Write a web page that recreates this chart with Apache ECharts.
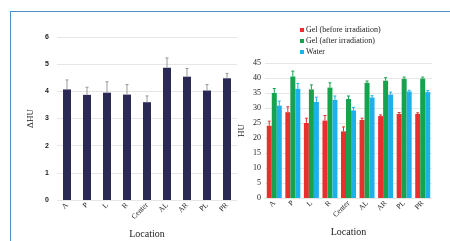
<!DOCTYPE html>
<html>
<head>
<meta charset="utf-8">
<script src="https://cdn.jsdelivr.net/npm/echarts@6/dist/echarts.min.js"></script>
<style>
  html, body { margin: 0; padding: 0; background: #fff; }
  #frame { position: absolute; left: 10px; top: 11px; width: 440px; height: 230px;
           border-left: 1.5px solid #4f8fc9; border-top: 1.5px solid #4f8fc9; }
  #chart { position: absolute; left: 0; top: 0; width: 450px; height: 241px; }
</style>
</head>
<body>
<div id="frame"></div>
<div id="chart"></div>
<script>
// 位置分类
var locations = ['A', 'P', 'L', 'R', 'Center', 'AL', 'AR', 'PL', 'PR'];

// 左图 ΔHU
var deltaHU = [4.07, 3.87, 3.95, 3.88, 3.6, 4.87, 4.54, 4.03, 4.48];
var deltaErr = [0.35, 0.28, 0.4, 0.37, 0.23, 0.36, 0.3, 0.22, 0.18];

// 右图 HU
var gelBefore = [24.1, 28.6, 25.0, 25.8, 22.2, 26.0, 27.3, 28.0, 28.0];
var gelBeforeErr = [1.5, 1.8, 1.6, 1.7, 1.5, 0.6, 0.4, 0.5, 0.4];
var gelAfter = [35.0, 40.5, 36.2, 36.8, 33.0, 38.4, 39.1, 39.7, 39.8];
var gelAfterErr = [1.5, 1.8, 1.5, 1.6, 1.0, 0.6, 1.0, 0.6, 0.5];
var water = [30.8, 36.4, 32.0, 32.7, 29.2, 33.5, 34.5, 35.5, 35.3];
var waterErr = [1.5, 1.8, 1.6, 1.3, 1.0, 0.6, 0.8, 0.4, 0.5];

var serif = 'Liberation Serif';

// 误差线
function errSeries(name, xi, yi, vals, errs, offset, color) {
    var data = [];
    for (var i = 0; i < vals.length; i++) data.push([i, vals[i], errs[i]]);
    return {
        name: name, type: 'custom', xAxisIndex: xi, yAxisIndex: yi, silent: true,
        z: 5,
        renderItem: function (params, api) {
            var p0 = api.coord([api.value(0), api.value(1)]);
            var p1 = api.coord([api.value(0), api.value(1) + api.value(2)]);
            var x = p0[0] + offset;
            return {
                type: 'group',
                children: [
                    { type: 'line', shape: { x1: x, y1: p0[1], x2: x, y2: p1[1] },
                      style: { stroke: color, lineWidth: 1 } },
                    { type: 'line', shape: { x1: x - 1.5, y1: p1[1], x2: x + 1.5, y2: p1[1] },
                      style: { stroke: color, lineWidth: 1 } }
                ]
            };
        },
        data: data
    };
}

var myChart = echarts.init(document.getElementById('chart'));
var xCommon = {
    type: 'category', data: locations,
    axisLine: { show: false }, axisTick: { show: false },
    axisLabel: { rotate: 45, fontSize: 7.5, fontFamily: serif, color: '#222', margin: 4, interval: 0 },
    name: 'Location', nameLocation: 'middle', nameGap: 29,
    nameTextStyle: { fontFamily: serif, fontSize: 10, color: '#222' }
};
var option = {
    animation: false,
    grid: [
        { left: 57, right: 213, top: 37, bottom: 41, outerBoundsMode: 'none' },
        { left: 265, right: 18, top: 63, bottom: 43, outerBoundsMode: 'none' }
    ],
    legend: {
        data: ['Gel (before irradiation)', 'Gel (after irradiation)', 'Water'],
        orient: 'vertical', left: 295, top: 21, itemGap: 3,
        itemWidth: 4, itemHeight: 4, icon: 'rect',
        textStyle: { fontFamily: serif, fontSize: 8, color: '#222', padding: [0, 0, 0, -3] }
    },
    xAxis: [
        Object.assign({ gridIndex: 0 }, xCommon),
        Object.assign({ gridIndex: 1 }, xCommon)
    ],
    yAxis: [
        { gridIndex: 0, type: 'value', min: 0, max: 6, interval: 1,
          axisLabel: { fontSize: 7, color: '#222', fontWeight: 'bold', margin: 8 },
          splitLine: { lineStyle: { color: '#e6e6e6' } },
          name: 'ΔHU', nameLocation: 'middle', nameGap: 22,
          nameTextStyle: { fontFamily: serif, fontSize: 9, color: '#222' } },
        { gridIndex: 1, type: 'value', min: 0, max: 45, interval: 5,
          axisLabel: { fontSize: 8, fontFamily: serif, color: '#222', margin: 4 },
          splitLine: { lineStyle: { color: '#e6e6e6' } },
          name: 'HU', nameLocation: 'middle', nameGap: 19,
          nameTextStyle: { fontFamily: serif, fontSize: 9, color: '#222' } }
    ],
    series: [
        { name: 'ΔHU', type: 'bar', xAxisIndex: 0, yAxisIndex: 0, data: deltaHU,
          barWidth: 8, itemStyle: { color: '#2a2a55' } },
        errSeries('ΔHU err', 0, 0, deltaHU, deltaErr, 0, '#9a9a9a'),
        { name: 'Gel (before irradiation)', type: 'bar', xAxisIndex: 1, yAxisIndex: 1,
          data: gelBefore, barWidth: 5, barGap: '0%', itemStyle: { color: '#e8302f' } },
        { name: 'Gel (after irradiation)', type: 'bar', xAxisIndex: 1, yAxisIndex: 1,
          data: gelAfter, barWidth: 5, barGap: '0%', itemStyle: { color: '#17a34e' } },
        { name: 'Water', type: 'bar', xAxisIndex: 1, yAxisIndex: 1,
          data: water, barWidth: 5, barGap: '0%', itemStyle: { color: '#1fb0ea' } },
        errSeries('before err', 1, 1, gelBefore, gelBeforeErr, -5, '#e8302f'),
        errSeries('after err', 1, 1, gelAfter, gelAfterErr, 0, '#17a34e'),
        errSeries('water err', 1, 1, water, waterErr, 5, '#1fb0ea')
    ]
};
myChart.setOption(option);
</script>
</body>
</html>
